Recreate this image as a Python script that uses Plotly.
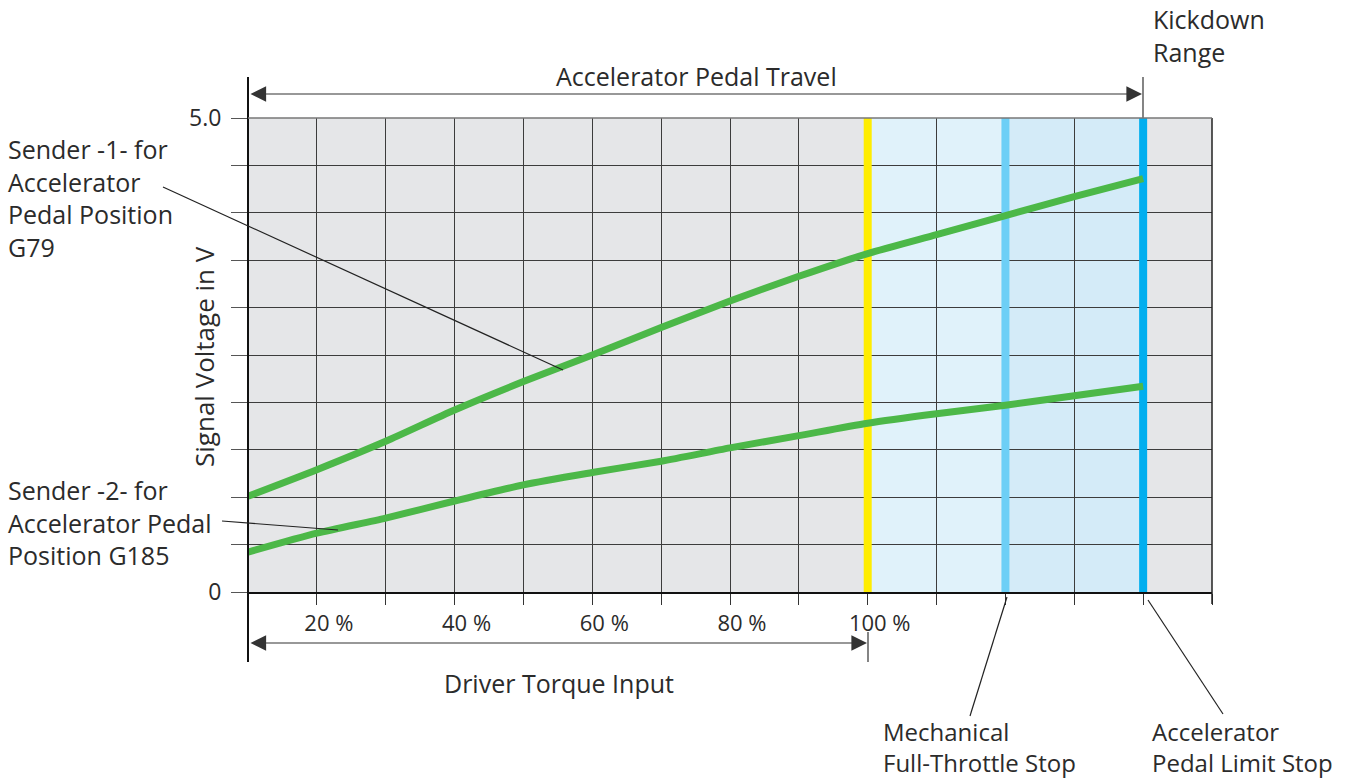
import plotly.graph_objects as go

# pedal position in % of travel, signal voltage in V
pedal_pct = [10, 20, 30, 40, 50, 60, 70, 80, 90, 100, 110, 120, 130, 140]
sender1_v = [1.01, 1.29, 1.59, 1.92, 2.22, 2.50, 2.79, 3.07, 3.33, 3.57, 3.77, 3.97, 4.17, 4.36]
sender2_v = [0.42, 0.62, 0.78, 0.96, 1.13, 1.26, 1.38, 1.52, 1.65, 1.78, 1.88, 1.97, 2.07, 2.17]

x_ticks = [10, 20, 30, 40, 50, 60, 70, 80, 90, 100, 110, 120, 130, 140, 150]
x_ticktext = ['', '20 %', '', '40 %', '', '60 %', '', '80 %', '', '100 %', '', '', '', '', '']
y_ticks = [0, 0.5, 1, 1.5, 2, 2.5, 3, 3.5, 4, 4.5, 5]
y_ticktext = ['0', '', '', '', '', '', '', '', '', '', '5.0']

full_throttle = 100
mech_stop = 120
limit_stop = 140

W, H = 1357, 780
L, R, T, B = 248, 1212, 118, 592
FONT = 'Open Sans'
TXT = '#2b2b2b'
GREEN = '#4cb848'


def px(x):
    return (x - L) / (R - L)


def py(y):
    return (B - y) / (B - T)


fig = go.Figure()
for vals in (sender1_v, sender2_v):
    fig.add_trace(go.Scatter(x=pedal_pct, y=vals, mode='lines', hoverinfo='skip',
                             line=dict(color=GREEN, width=7, shape='spline', smoothing=0.7)))

shapes = []
# shaded zones behind grid
shapes.append(dict(type='rect', xref='x', yref='y', x0=full_throttle, x1=mech_stop, y0=0, y1=5,
                   fillcolor='#e0f2fa', line_width=0, layer='below'))
shapes.append(dict(type='rect', xref='x', yref='y', x0=mech_stop, x1=limit_stop, y0=0, y1=5,
                   fillcolor='#d4ebf8', line_width=0, layer='below'))
# coloured stop lines
for xv, c in [(full_throttle, '#ffed00'), (mech_stop, '#6dcff6'), (limit_stop, '#00aeef')]:
    shapes.append(dict(type='line', xref='x', yref='y', x0=xv, x1=xv, y0=0, y1=5,
                       line=dict(color=c, width=8), layer='between'))


# dimension / leader lines (paper coords)
def seg(x0, y0, x1, y1, color='#222', width=1.2):
    shapes.append(dict(type='line', xref='paper', yref='paper', x0=px(x0), y0=py(y0), x1=px(x1), y1=py(y1),
                       line=dict(color=color, width=width), layer='above'))


seg(248, 77, 248, 662, '#111', 2)
seg(1143, 77, 1143, 118, '#333', 1.2)
seg(868, 632, 868, 662, '#333', 1.2)
seg(163, 187, 563, 370)
seg(222, 521, 338, 530)
seg(1007, 597, 970, 716)
seg(1148, 600, 1223, 714)
# plot frame: right and top edges
seg(1212, 118, 1212, 604, '#222', 1.5)
seg(248, 118, 1212, 118, '#777', 1.3)

annotations = []


def label(text, x, y, size=25, anchor='left'):
    annotations.append(dict(text=text, xref='paper', yref='paper', x=px(x), y=py(y), xanchor=anchor,
                            yanchor='middle', align='left', showarrow=False,
                            font=dict(family=FONT, size=size, color=TXT)))


def dim_arrow(x0, x1, y):
    annotations.append(dict(text='', xref='paper', yref='paper', x=px(x1), y=py(y),
                            ax=x0 - x1, ay=0, axref='pixel', ayref='pixel',
                            showarrow=True, arrowside='end+start', arrowhead=2, startarrowhead=2,
                            arrowsize=2.6, startarrowsize=2.6, arrowwidth=1.2, arrowcolor='#333',
                            standoff=0, startstandoff=0))


dim_arrow(249, 1142, 94)
dim_arrow(249, 867, 643)

label('Accelerator Pedal Travel', 696, 76, 25, 'center')
label('Driver Torque Input', 559, 683, 25, 'center')
label('Kickdown<br>Range', 1151, 36)
label('Sender -1- for<br>Accelerator<br>Pedal Position<br>G79', 6, 198)
label('Sender -2- for<br>Accelerator Pedal<br>Position G185', 6, 522)
label('Mechanical<br>Full-Throttle Stop', 881, 747, 24)
label('Accelerator<br>Pedal Limit Stop', 1150, 747, 24)
annotations.append(dict(text='Signal Voltage in V', xref='paper', yref='paper', x=px(204), y=py(357),
                        xanchor='center', yanchor='middle', textangle=-90, showarrow=False,
                        font=dict(family=FONT, size=26, color=TXT)))

fig.update_layout(
    width=W, height=H, autosize=False,
    margin=dict(l=L, r=W - R, t=T, b=H - B, pad=0),
    paper_bgcolor='white', plot_bgcolor='#e5e6e8',
    showlegend=False,
    font=dict(family=FONT, color=TXT),
    shapes=shapes, annotations=annotations,
    xaxis=dict(range=[10, 150], tickmode='array', tickvals=x_ticks, ticktext=x_ticktext,
               showgrid=True, gridcolor='#3c3c3c', gridwidth=1.3,
               showline=True, linecolor='#111', linewidth=2, mirror=False,
               ticks='outside', ticklen=11, tickwidth=1.3, tickcolor='#333',
               ticklabelshift=12, tickfont=dict(size=22, color=TXT),
               zeroline=False, fixedrange=True),
    yaxis=dict(range=[0, 5], tickmode='array', tickvals=y_ticks, ticktext=y_ticktext,
               showgrid=True, gridcolor='#3c3c3c', gridwidth=1.3,
               showline=False, zeroline=False,
               ticks='outside', ticklen=16, tickwidth=1.2, tickcolor='#555',
               ticklabelstandoff=5, tickfont=dict(size=23, color=TXT), fixedrange=True),
)

fig.write_html('out.html', config={'displayModeBar': False},
               post_script="document.body.style.margin='0px';")
